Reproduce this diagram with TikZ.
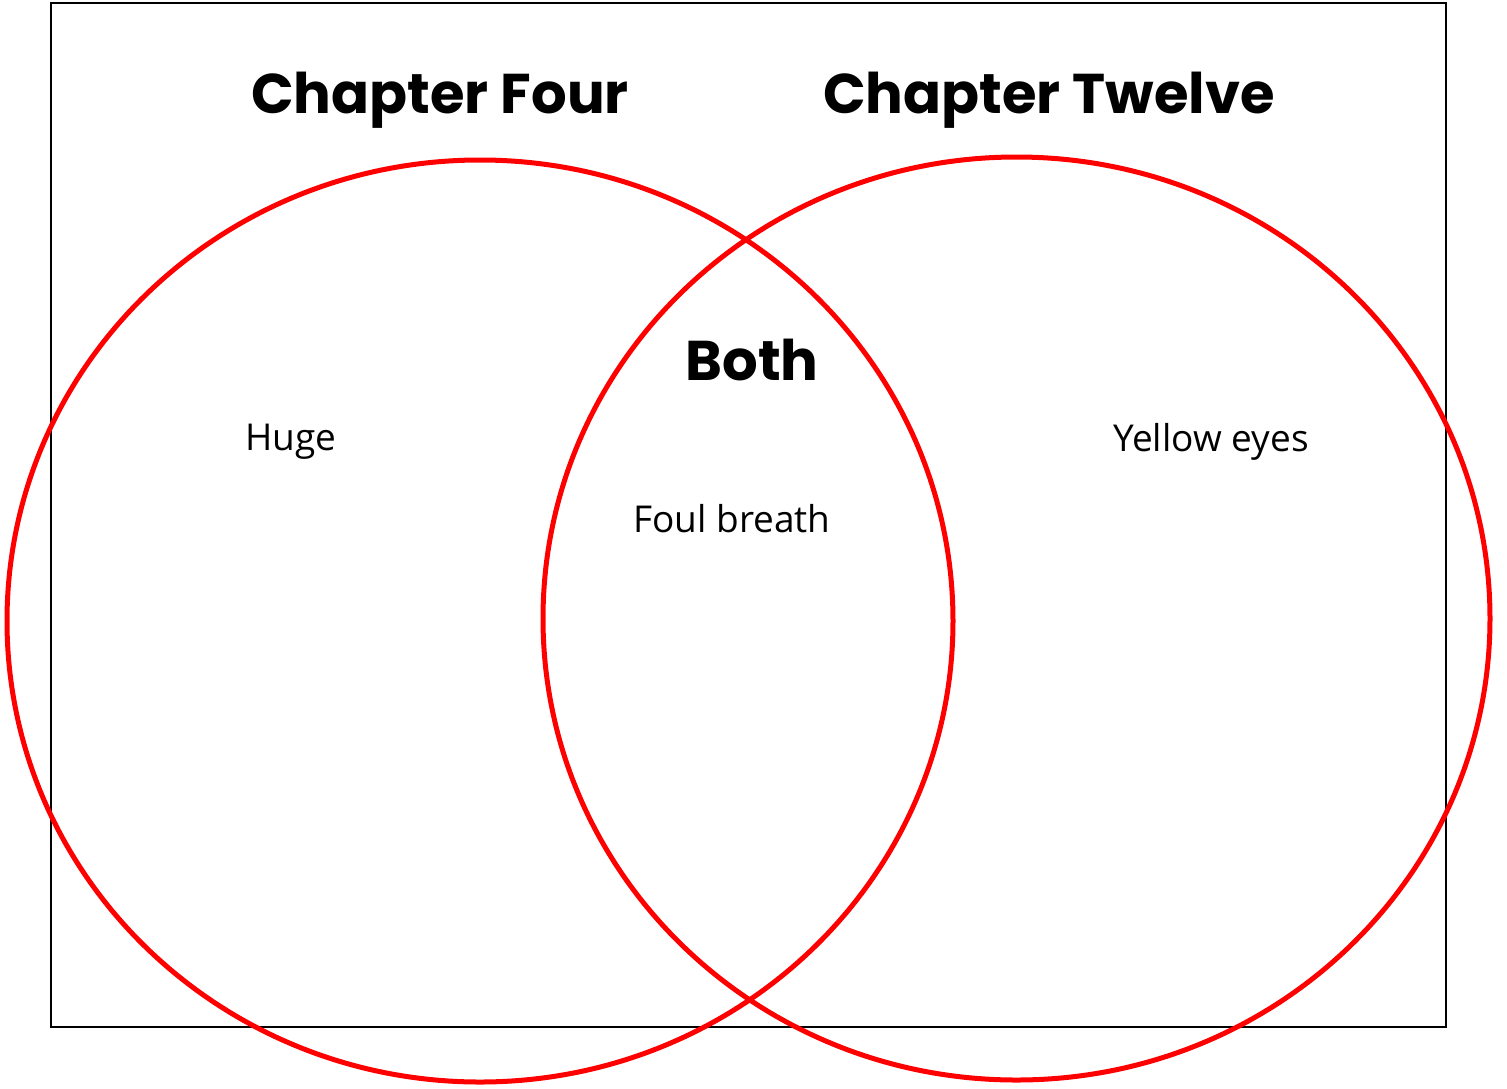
\documentclass[tikz,border=0pt]{standalone}
\usepackage{fontspec}
\newfontfamily\headfont{Poppins}
\newfontfamily\bodyfont{Open Sans}
\begin{document}
\begin{tikzpicture}[x=1pt,y=-1pt,
  venn/.style={draw=red,line width=5pt},
  head/.style={font=\headfont\bfseries\fontsize{56}{62}\selectfont,inner sep=0pt},
  body/.style={font=\bodyfont\fontsize{37}{44}\selectfont,inner sep=0pt}]
\useasboundingbox (0,0) rectangle (1507,1088);
\draw[line width=1.6pt] (51,3) rectangle (1446,1027);
\draw[venn] (480,621) ellipse [x radius=473,y radius=461];
\draw[venn] (1016.5,618.5) ellipse [x radius=473.5,y radius=461.5];
\node[head] (t1) at (440,100) {Chapter Four};
\node[head] (t2) at (1049,100) {Chapter Twelve};
\node[head] (t3) at (752,360) {Both};
\node[body] (a) at (291,442) {Huge};
\node[body] (b) at (1211,442) {Yellow eyes};
\node[body] (c) at (732,519) {Foul breath};
\end{tikzpicture}
\end{document}
